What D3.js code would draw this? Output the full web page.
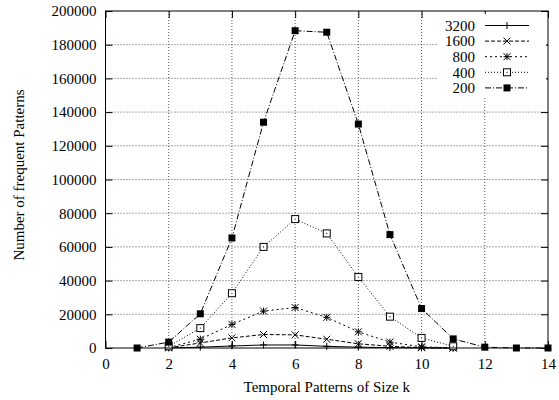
<!DOCTYPE html>
<html>
<head>
<meta charset="UTF-8">
<title>Frequent patterns</title>
<script src="https://d3js.org/d3.v7.min.js"></script>
<style>
  body { margin: 0; background: #fff; }
</style>
</head>
<body>
<div class="canvas"></div>
<script>
  // values
  const sizes = [1, 2, 3, 4, 5, 6, 7, 8, 9, 10, 11, 12, 13, 14];
  const sizesShort = [2, 3, 4, 5, 6, 7, 8, 9, 10, 11];
  const s200 = [0, 3500, 20300, 65300, 134000, 188300, 187400, 132900, 67300, 23400, 5400, 500, 0, 0];
  const s400 = [1000, 11800, 32500, 60000, 76500, 68000, 42100, 18600, 6000, 1000];
  const s800 = [300, 5200, 14000, 21900, 24000, 18200, 9600, 3500, 700, 100];
  const s1600 = [100, 3000, 6000, 8000, 7800, 5200, 2500, 1000, 200, 0];
  const s3200 = [0, 500, 1200, 1800, 1800, 1000, 500, 200, 50, 0];
  const xTicks = [0, 2, 4, 6, 8, 10, 12, 14];
  const yTicks = [0, 20000, 40000, 60000, 80000, 100000, 120000, 140000, 160000, 180000, 200000];

  const series = [
    { name: '3200', xs: sizesShort, ys: s3200, dash: null, marker: 'plus' },
    { name: '1600', xs: sizesShort, ys: s1600, dash: '4,2', marker: 'cross' },
    { name: '800', xs: sizesShort, ys: s800, dash: '2,3', marker: 'star' },
    { name: '400', xs: sizesShort, ys: s400, dash: '1,2', marker: 'box' },
    { name: '200', xs: sizes, ys: s200, dash: '6,2,1,2', marker: 'fbox' }
  ];

  const W = 559, H = 400;
  const margin = { top: 11, right: 11, bottom: 52, left: 105.5 };
  const w = W - margin.left - margin.right;
  const h = H - margin.top - margin.bottom;
  const serif = 'Liberation Serif';
  const fontSize = 15;

  const svg = d3.select('.canvas').append('svg')
    .attr('width', W).attr('height', H);

  const g = svg.append('g')
    .attr('transform', `translate(${margin.left}, ${margin.top})`);

  const x = d3.scaleLinear().domain([0, 14]).range([0, w]);
  const y = d3.scaleLinear().domain([0, 200000]).range([h, 0]);

  // grid
  g.append('g').selectAll('line').data(xTicks.slice(1, -1)).enter().append('line')
    .attr('x1', d => x(d)).attr('x2', d => x(d)).attr('y1', 0).attr('y2', h)
    .attr('stroke', '#555').attr('stroke-width', 1).attr('stroke-dasharray', '1,2');
  g.append('g').selectAll('line').data(yTicks.slice(1, -1)).enter().append('line')
    .attr('y1', d => y(d)).attr('y2', d => y(d)).attr('x1', 0).attr('x2', w)
    .attr('stroke', '#555').attr('stroke-width', 1).attr('stroke-dasharray', '1,2');

  // axes, ticks point inward and are mirrored
  g.append('g').attr('transform', `translate(0, ${h})`)
    .call(d3.axisBottom(x).tickValues(xTicks).tickSize(-7).tickPadding(10.5).tickFormat(d3.format('d')));
  g.append('g')
    .call(d3.axisLeft(y).tickValues(yTicks).tickSize(-7).tickPadding(9).tickFormat(d3.format('d')));
  g.append('g').call(d3.axisTop(x).tickValues(xTicks).tickSize(-7).tickFormat(''));
  g.append('g').attr('transform', `translate(${w}, 0)`)
    .call(d3.axisRight(y).tickValues(yTicks).tickSize(-7).tickFormat(''));
  g.selectAll('.domain').remove();
  g.selectAll('.tick line').attr('stroke', '#000');
  g.selectAll('g').attr('font-family', serif).attr('font-size', fontSize);

  // legend background hides the grid behind it
  const legend = g.append('g');
  legend.append('rect')
    .attr('x', 437 - margin.left).attr('y', 3).attr('width', 109).attr('height', 82)
    .attr('fill', '#fff');

  function drawMarker(sel, type) {
    const s = 3.5;
    if (type === 'plus') {
      sel.append('path').attr('d', `M${-s},0H${s}M0,${-s}V${s}`).attr('stroke', '#000').attr('fill', 'none');
    } else if (type === 'cross') {
      sel.append('path').attr('d', `M${-s},${-s}L${s},${s}M${-s},${s}L${s},${-s}`).attr('stroke', '#000').attr('fill', 'none');
    } else if (type === 'star') {
      sel.append('path').attr('d', `M${-s},0H${s}M0,${-s}V${s}M${-s},${-s}L${s},${s}M${-s},${s}L${s},${-s}`).attr('stroke', '#000').attr('fill', 'none');
    } else if (type === 'box') {
      sel.append('rect').attr('x', -s).attr('y', -s).attr('width', 2 * s).attr('height', 2 * s)
        .attr('fill', '#fff').attr('stroke', '#000');
      sel.append('circle').attr('r', 0.6).attr('fill', '#000');
    } else if (type === 'fbox') {
      sel.append('rect').attr('x', -s).attr('y', -s).attr('width', 2 * s).attr('height', 2 * s)
        .attr('fill', '#000');
    }
  }

  const line = d3.line().x(d => x(d[0])).y(d => y(d[1]));

  series.forEach(s => {
    const pts = s.xs.map((v, i) => [v, s.ys[i]]);
    g.append('path').datum(pts)
      .attr('d', line)
      .attr('fill', 'none').attr('stroke', '#000').attr('stroke-width', 1)
      .attr('stroke-dasharray', s.dash);
    g.append('g').selectAll('g').data(pts).enter().append('g')
      .attr('transform', d => `translate(${x(d[0])}, ${y(d[1])})`)
      .each(function () { drawMarker(d3.select(this), s.marker); });
  });

  // legend entries
  series.forEach((s, i) => {
    const ly = 14.5 + i * 15.6;
    legend.append('text').attr('x', 475 - margin.left).attr('y', ly).attr('dy', '0.35em')
      .attr('text-anchor', 'end').attr('font-family', serif).attr('font-size', fontSize).text(s.name);
    legend.append('line').attr('x1', 485 - margin.left).attr('x2', 529 - margin.left)
      .attr('y1', ly).attr('y2', ly)
      .attr('stroke', '#000').attr('stroke-dasharray', s.dash);
    drawMarker(legend.append('g').attr('transform', `translate(${507 - margin.left}, ${ly})`), s.marker);
  });

  // frame
  g.append('rect').attr('width', w).attr('height', h)
    .attr('fill', 'none').attr('stroke', '#000').attr('stroke-width', 1);

  // axis titles
  svg.append('text').attr('x', margin.left + w / 2).attr('y', 392)
    .attr('text-anchor', 'middle').attr('font-family', serif).attr('font-size', fontSize)
    .text('Temporal Patterns of Size k');
  svg.append('text')
    .attr('transform', `translate(24, 175) rotate(-90)`)
    .attr('text-anchor', 'middle').attr('font-family', serif).attr('font-size', fontSize)
    .text('Number of frequent Patterns');
</script>
</body>
</html>
